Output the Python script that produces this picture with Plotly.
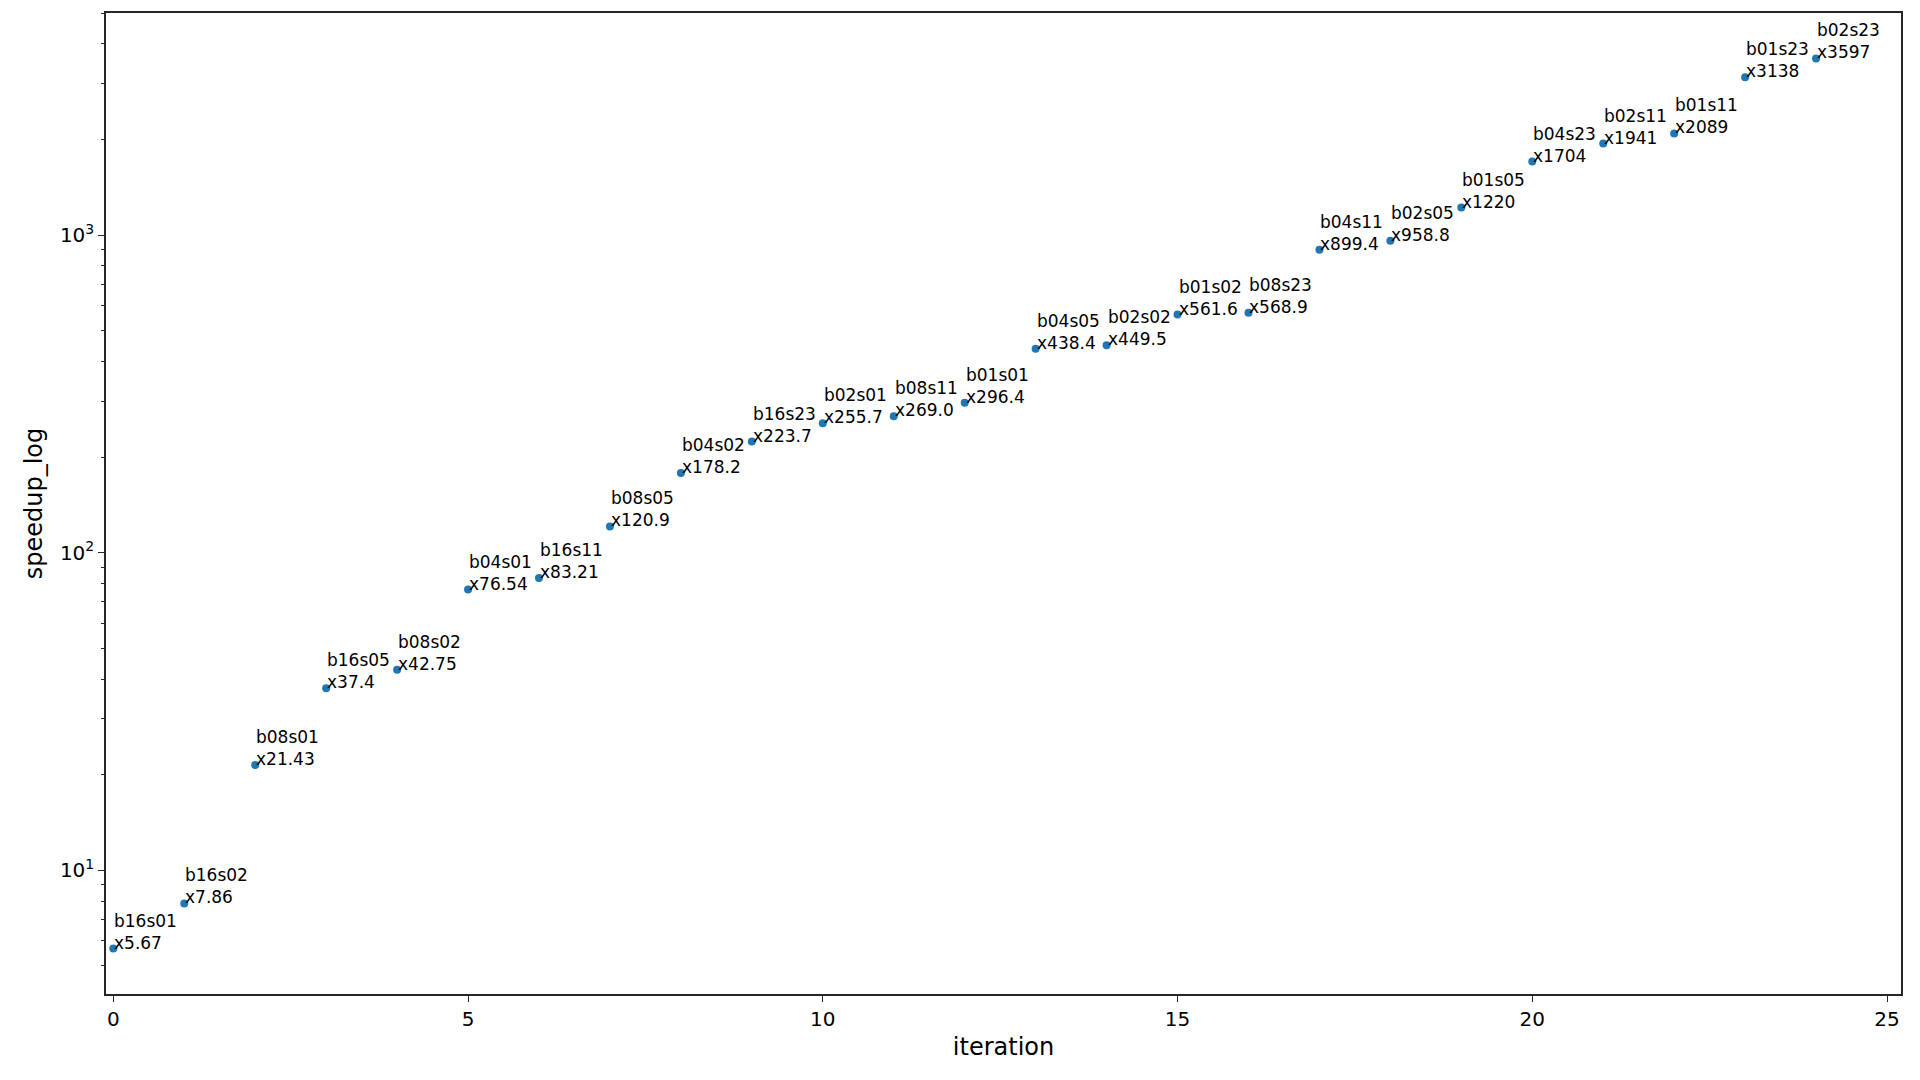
import math
import plotly.graph_objects as go

iterations = list(range(25))
speedups = [5.67, 7.86, 21.43, 37.4, 42.75, 76.54, 83.21, 120.9, 178.2, 223.7,
            255.7, 269.0, 296.4, 438.4, 449.5, 561.6, 568.9, 899.4, 958.8, 1220,
            1704, 1941, 2089, 3138, 3597]
names = ["b16s01", "b16s02", "b08s01", "b16s05", "b08s02", "b04s01", "b16s11",
         "b08s05", "b04s02", "b16s23", "b02s01", "b08s11", "b01s01", "b04s05",
         "b02s02", "b01s02", "b08s23", "b04s11", "b02s05", "b01s05", "b04s23",
         "b02s11", "b01s11", "b01s23", "b02s23"]
value_labels = ["x5.67", "x7.86", "x21.43", "x37.4", "x42.75", "x76.54", "x83.21",
                "x120.9", "x178.2", "x223.7", "x255.7", "x269.0", "x296.4", "x438.4",
                "x449.5", "x561.6", "x568.9", "x899.4", "x958.8", "x1220", "x1704",
                "x1941", "x2089", "x3138", "x3597"]

FONT = "DejaVu Sans"
fig = go.Figure()
fig.add_trace(go.Scatter(x=iterations, y=speedups, mode="markers",
                         marker=dict(color="#1f77b4", size=8), showlegend=False))

for xi, yi, n, v in zip(iterations, speedups, names, value_labels):
    fig.add_annotation(x=xi, y=math.log10(yi), text=f"{n}<br>{v}", showarrow=False,
                       xanchor="left", yanchor="bottom", align="left",
                       xshift=-1, yshift=-6,
                       font=dict(family=FONT, size=17, color="black"))

minor_vals = [m * 10 ** e for e in range(0, 4) for m in range(2, 10)]
fig.update_layout(
    width=1920, height=1080,
    margin=dict(l=106, r=19, t=11, b=86),
    paper_bgcolor="white", plot_bgcolor="white",
    font=dict(family=FONT, size=20, color="black"),
)
fig.update_xaxes(range=[-0.103, 25.197], tickvals=[0, 5, 10, 15, 20, 25],
                 showgrid=False, zeroline=False, showline=True, linecolor="#262626",
                 linewidth=1.5, mirror=True, ticks="outside", ticklen=6,
                 tickwidth=1.2, tickcolor="#262626",
                 title=dict(text="iteration", standoff=8),
                 tickfont=dict(size=20))
fig.update_yaxes(type="log", range=[0.6104, 3.699],
                 tickvals=[10, 100, 1000],
                 ticktext=["10<sup>1</sup>", "10<sup>2</sup>", "10<sup>3</sup>"],
                 showgrid=False, zeroline=False, showline=True, linecolor="#262626",
                 linewidth=1.5, mirror=True, ticks="outside", ticklen=6,
                 tickwidth=1.2, tickcolor="#262626",
                 minor=dict(tickvals=minor_vals, ticks="outside", ticklen=3.5,
                            tickwidth=1, tickcolor="#262626", showgrid=False),
                 title=dict(text="speedup_log", standoff=10),
                 tickfont=dict(size=20))

fig.write_html("out.html")
